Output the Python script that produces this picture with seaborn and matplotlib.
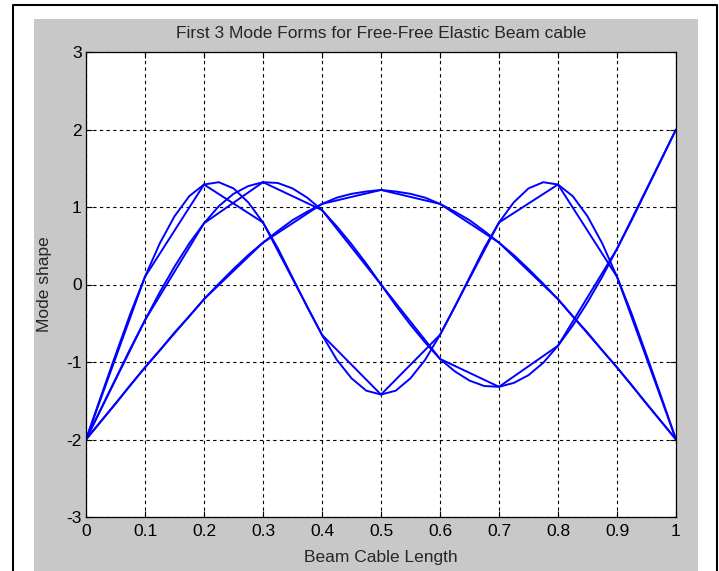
import numpy as np
import pandas as pd
import matplotlib
matplotlib.use("Agg")
import matplotlib.pyplot as plt
import seaborn as sns

# ---------------- data ----------------
title = "First 3 Mode Forms for Free-Free Elastic Beam cable"
xlabel = "Beam Cable Length"
ylabel = "Mode shape"
xticks = [0, 0.1, 0.2, 0.3, 0.4, 0.5, 0.6, 0.7, 0.8, 0.9, 1]
xticklabels = ["0", "0.1", "0.2", "0.3", "0.4", "0.5", "0.6", "0.7", "0.8", "0.9", "1"]
yticks = [-3, -2, -1, 0, 1, 2, 3]
yticklabels = ["-3", "-2", "-1", "0", "1", "2", "3"]

# coarse discretisation (10 elements)
x_coarse = [0.0, 0.1, 0.2, 0.3, 0.4, 0.5, 0.6, 0.7, 0.8, 0.9, 1.0]
mode1_coarse = [-2.0, -1.07, -0.19, 0.54, 1.04, 1.22, 1.04, 0.54, -0.19, -1.07, -2.0]
mode2_coarse = [-2.0, -0.46, 0.79, 1.32, 0.96, 0.0, -0.96, -1.32, -0.79, 0.46, 2.0]
mode3_coarse = [-2.0, 0.10, 1.29, 0.80, -0.65, -1.42, -0.65, 0.80, 1.29, 0.10, -2.0]

# fine discretisation (40 elements)
x_fine = [0.0, 0.025, 0.05, 0.075, 0.1, 0.125, 0.15, 0.175, 0.2, 0.225,
          0.25, 0.275, 0.3, 0.325, 0.35, 0.375, 0.4, 0.425, 0.45, 0.475,
          0.5, 0.525, 0.55, 0.575, 0.6, 0.625, 0.65, 0.675, 0.7, 0.725,
          0.75, 0.775, 0.8, 0.825, 0.85, 0.875, 0.9, 0.925, 0.95, 0.975, 1.0]
mode1_fine = [-2.0, -1.77, -1.54, -1.30, -1.07, -0.85, -0.62, -0.41, -0.19, 0.01,
              0.20, 0.38, 0.54, 0.69, 0.83, 0.94, 1.04, 1.12, 1.17, 1.20,
              1.22, 1.20, 1.17, 1.12, 1.04, 0.94, 0.83, 0.69, 0.54, 0.38,
              0.20, 0.01, -0.19, -0.41, -0.62, -0.85, -1.07, -1.30, -1.54, -1.77, -2.0]
mode2_fine = [-2.0, -1.61, -1.22, -0.83, -0.46, -0.10, 0.23, 0.53, 0.79, 1.01,
              1.17, 1.27, 1.32, 1.31, 1.24, 1.12, 0.96, 0.75, 0.52, 0.27,
              0.0, -0.27, -0.52, -0.75, -0.96, -1.12, -1.24, -1.31, -1.32, -1.27,
              -1.17, -1.01, -0.79, -0.53, -0.23, 0.10, 0.46, 0.83, 1.22, 1.61, 2.0]
mode3_fine = [-2.0, -1.45, -0.91, -0.38, 0.10, 0.53, 0.88, 1.14, 1.29, 1.32,
              1.24, 1.06, 0.80, 0.47, 0.09, -0.29, -0.65, -0.97, -1.21, -1.37,
              -1.42, -1.37, -1.21, -0.97, -0.65, -0.29, 0.09, 0.47, 0.80, 1.06,
              1.24, 1.32, 1.29, 1.14, 0.88, 0.53, 0.10, -0.38, -0.91, -1.45, -2.0]

# ---------------- figure ----------------
sns.set_style("ticks")
plt.rcParams["font.family"] = ["Liberation Sans", "DejaVu Sans"]
plt.rcParams["axes.unicode_minus"] = False

W, H = 719, 571
fig = plt.figure(figsize=(W / 100, H / 100), dpi=100)
fig.patch.set_facecolor("white")

# MATLAB-like grey figure panel with black outer frame (background axes)
bg = fig.add_axes([0, 0, 1, 1], zorder=-10)
bg.set_xlim(0, W)
bg.set_ylim(H, 0)
bg.axis("off")
bg.add_patch(plt.Rectangle((34, 19), 698 - 34, H - 19, facecolor="#c8c8c8", edgecolor="none"))
bg.plot([13, 13, 717, 717], [H, 5, 5, H], color="black", lw=1.5)

ax = fig.add_axes([86 / W, (H - 517) / H, (676 - 86) / W, (517 - 52) / H], zorder=1)
ax.set_facecolor("white")

blue = "#0000ff"
lw = 1.4
for xs, ys in [(x_coarse, mode1_coarse), (x_coarse, mode2_coarse), (x_coarse, mode3_coarse)]:
    sns.lineplot(x=xs, y=ys, ax=ax, color=blue, lw=lw, sort=False, estimator=None)
for ys in [mode1_fine, mode2_fine, mode3_fine]:
    sns.lineplot(x=x_fine, y=ys, ax=ax, color=blue, lw=lw, sort=False, estimator=None)

ax.set_xlim(0, 1)
ax.set_ylim(-3, 3)
ax.set_xticks(xticks)
ax.set_xticklabels(xticklabels)
ax.set_yticks(yticks)
ax.set_yticklabels(yticklabels)
ax.grid(True, color="black", linestyle=(0, (3, 3)), linewidth=0.8)
ax.set_axisbelow(True)
ax.tick_params(direction="in", top=True, right=True, length=4, width=0.8,
               labelsize=12.5, colors="black")
ax.tick_params(axis="x", pad=5)
ax.tick_params(axis="y", pad=3)
for s in ax.spines.values():
    s.set_color("black")
    s.set_linewidth(0.9)
    s.set_visible(True)

ax.set_title(title, fontsize=12.5, pad=10)
ax.set_xlabel(xlabel, fontsize=12.5, labelpad=8)
ax.set_ylabel(ylabel, fontsize=12.5, labelpad=10)

fig.savefig("out.png", dpi=100)
